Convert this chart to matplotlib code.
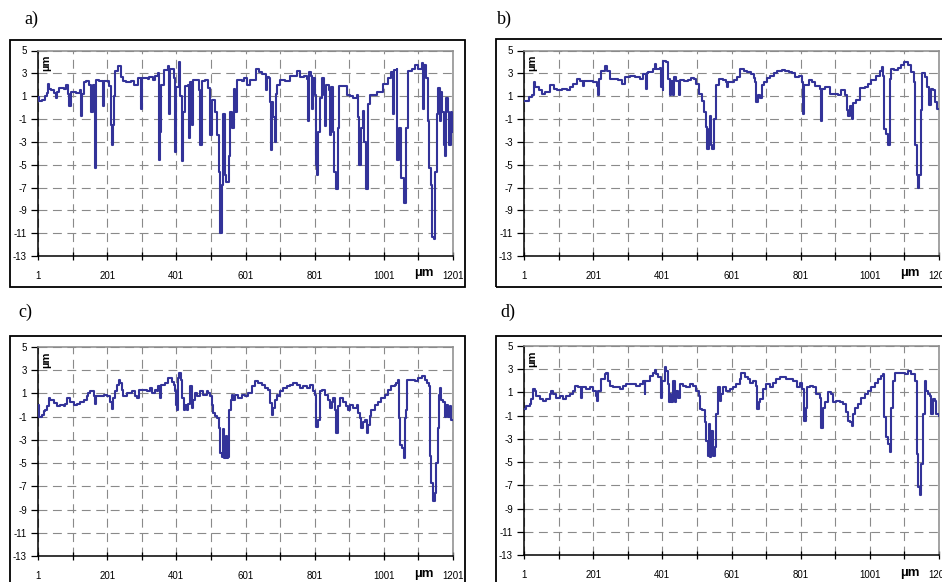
import numpy as np
import matplotlib.pyplot as plt
from matplotlib.patches import Rectangle
import matplotlib.transforms as mtransforms

plt.rcParams['font.family'] = ['Liberation Sans', 'DejaVu Sans']
plt.rcParams['axes.unicode_minus'] = False

W, H = 942, 582

x_ticks = list(range(1, 1202, 100))
x_labels = ['1', '', '201', '', '401', '', '601', '', '801', '', '1001', '', '1201']
y_ticks = [5, 3, 1, -1, -3, -5, -7, -9, -11, -13]
panel_names = ['a)', 'b)', 'c)', 'd)']

# step profiles: (position, height) where each level starts
prof_a = [
    (1, 0.9), (4, 0.6), (12, 0.7), (20, 1.0), (26, 1.3), (29, 2.1), (33, 1.6), (39, 1.5),
    (48, 1.3), (53, 0.8), (56, 1.4), (63, 1.7), (75, 1.6), (82, 2.0), (89, 1.2), (92, 0.1),
    (95, 1.4), (110, 1.3), (121, 1.5), (125, -0.7), (128, 1.2), (134, 2.2), (140, 2.3),
    (149, 2.0), (155, -0.4), (160, 2.0), (166, -5.3), (168, 2.4), (178, 2.3), (188, 0.1),
    (191, 2.3), (198, 2.3), (205, 1.9), (211, -1.5), (214, -3.3), (217, -1.5), (221, 1.0),
    (225, 3.2), (231, 3.6), (240, 2.7), (248, 2.3), (256, 2.2), (270, 2.3), (280, 2.0),
    (289, 2.6), (298, -0.1), (302, 2.6), (318, 2.5), (323, 2.7), (333, 2.4), (340, 2.8),
    (347, 3.0), (350, -1.5), (352, -4.6), (355, -2.1), (358, 2.0), (366, 3.3), (376, 3.6),
    (381, -0.6), (384, 3.4), (393, 2.6), (397, -3.9), (400, 1.8), (408, 4.0), (413, 1.0),
    (416, -4.7), (420, -0.4), (425, 1.9), (435, 2.0), (437, -2.7), (440, 2.2), (446, -1.5),
    (450, 2.4), (460, 2.4), (466, 1.5), (470, -3.3), (474, 2.3), (485, 2.4), (494, 1.7),
    (499, -2.4), (503, 0.7), (512, -0.4), (519, -2.4), (523, -5.6), (528, -11.0), (532, -6.8),
    (537, -0.6), (541, -5.9), (546, -6.5), (552, -4.2), (557, -0.4), (563, -1.8), (567, 1.6),
    (571, -0.4), (575, 2.4), (590, 2.3), (597, 2.6), (606, 2.0), (615, 2.4), (630, 3.4),
    (639, 3.1), (649, 2.9), (659, 2.7), (661, 1.5), (664, 2.7), (668, 2.6), (671, 0.5),
    (675, -3.7), (678, 0.5), (681, -0.8), (685, -3.0), (689, 1.2), (692, 2.0), (702, 2.4),
    (716, 2.3), (731, 2.8), (750, 3.2), (759, 2.7), (769, 2.8), (779, 2.5), (781, -1.2),
    (784, 3.1), (790, 2.8), (793, -0.1), (797, 2.6), (803, 1.1), (805, -5.0), (809, -5.9),
    (812, -2.1), (817, 0.8), (821, 2.6), (827, 1.1), (831, -1.6), (834, 2.0), (841, 1.5),
    (846, -2.4), (848, 1.8), (853, -2.1), (858, -5.6), (863, -7.1), (868, -1.8), (872, 1.9),
    (884, 1.9), (894, 1.1), (903, 1.0), (913, 0.8), (923, 1.1), (927, -0.8), (930, -5.0),
    (935, -1.8), (940, -0.3), (945, -3.0), (950, -7.1), (955, 0.3), (962, 1.1), (980, 1.4),
    (999, 2.1), (1014, 2.6), (1023, 3.1), (1028, -0.6), (1031, 3.3), (1038, 3.4), (1040, -4.6),
    (1045, -1.8), (1052, -6.2), (1060, -8.4), (1065, -1.8), (1070, 3.2), (1081, 3.4),
    (1091, 3.7), (1100, 3.4), (1110, 3.9), (1114, -0.1), (1117, 3.7), (1124, 2.6),
    (1128, -1.2), (1132, -5.3), (1137, -6.8), (1140, -11.3), (1147, -11.5), (1150, -5.6),
    (1154, -0.6), (1158, 1.7), (1162, -1.2), (1166, 1.4), (1170, -0.4), (1174, -3.3),
    (1178, -4.2), (1182, 0.8), (1186, -0.4), (1190, -3.3), (1194, -0.4), (1198, -2.1),
    (1201, -2.1),
]

prof_b = [
    (1, 0.6), (15, 0.9), (24, 1.1), (29, 2.2), (34, 1.8), (44, 1.5), (53, 1.2), (63, 1.4),
    (77, 2.0), (87, 1.6), (96, 1.5), (111, 1.6), (125, 1.5), (134, 1.8), (144, 2.1),
    (154, 2.5), (163, 2.3), (171, 1.9), (174, 2.3), (192, 2.3), (201, 2.2), (211, 1.9),
    (214, 1.1), (217, 2.5), (225, 3.2), (235, 3.6), (242, 3.2), (249, 2.5), (264, 2.5),
    (273, 2.4), (283, 2.1), (292, 2.7), (307, 2.8), (321, 2.7), (335, 2.5), (345, 2.9),
    (353, 1.6), (356, 3.0), (359, 3.1), (374, 3.4), (379, 3.8), (383, 3.4), (393, 3.5),
    (398, 1.8), (402, 1.5), (404, 4.1), (412, 4.0), (417, 2.5), (422, 1.1), (426, 2.3),
    (431, 1.1), (436, 2.7), (441, 2.3), (450, 1.1), (453, 2.4), (465, 2.3), (474, 2.4),
    (484, 2.6), (493, 2.5), (498, 2.1), (508, 1.2), (515, 0.6), (522, -0.4), (527, -1.7),
    (530, -3.6), (535, -1.9), (538, -0.7), (541, -3.3), (546, -3.6), (549, -1.0), (556, 2.0),
    (565, 2.5), (575, 2.4), (584, 2.2), (589, 1.8), (591, 2.2), (608, 2.4), (618, 2.7),
    (627, 3.4), (637, 3.2), (646, 3.1), (656, 2.9), (666, 2.6), (670, 2.2), (673, 0.5),
    (678, 1.1), (682, 0.8), (688, 2.0), (694, 2.2), (704, 2.6), (713, 2.8), (723, 3.0),
    (733, 3.2), (747, 3.3), (757, 3.2), (766, 3.1), (776, 3.0), (785, 2.7), (795, 2.8),
    (804, 2.2), (808, -0.6), (811, 2.0), (824, 2.4), (833, 2.2), (843, 1.9), (857, 1.6),
    (860, -1.2), (864, 1.6), (871, 1.8), (886, 1.2), (895, 1.2), (910, 1.1), (919, 1.5),
    (929, 1.1), (934, -0.25), (938, -0.75), (943, 0.1), (948, -1.0), (953, 0.4), (962, 0.7),
    (972, 1.7), (986, 1.8), (996, 2.1), (1005, 2.4), (1020, 2.8), (1029, 3.2), (1036, 3.55),
    (1039, 2.8), (1042, -1.85), (1048, -2.3), (1053, -3.25), (1058, 2.5), (1063, 3.4),
    (1072, 3.3), (1082, 3.5), (1091, 3.7), (1101, 4.0), (1111, 3.7), (1120, 3.1),
    (1128, 2.2), (1132, -3.3), (1137, -5.9), (1139, -7.05), (1144, -5.9), (1149, -0.25),
    (1153, 3.0), (1160, 2.7), (1166, 1.8), (1173, 0.2), (1178, 1.6), (1185, 1.5),
    (1189, 0.5), (1195, -0.1), (1201, -0.1),
]

prof_c = [
    (1, 0.0), (4, -1.0), (13, -0.85), (17, -0.55), (22, -0.4), (27, -0.05), (32, 0.6),
    (37, 0.45), (46, 0.15), (56, -0.1), (65, 0.0), (75, -0.05), (80, 0.1), (85, 0.6),
    (94, 0.3), (104, 0.0), (114, 0.1), (123, 0.3), (133, 0.45), (142, 0.75), (147, 1.0),
    (152, 1.2), (162, 0.75), (167, 0.1), (169, 0.8), (181, 0.75), (191, 0.9), (200, 0.75),
    (210, 0.3), (215, -0.3), (218, 0.6), (224, 1.2), (229, 1.75), (234, 2.2), (239, 1.9),
    (243, 1.3), (248, 0.75), (258, 1.0), (272, 1.2), (282, 0.75), (287, 0.6), (292, 1.3),
    (306, 1.3), (316, 1.2), (325, 1.45), (330, 1.0), (340, 1.3), (345, 1.2), (349, 1.6),
    (354, 0.6), (357, 1.75), (369, 1.9), (378, 2.3), (388, 2.0), (393, 1.75), (397, 1.2),
    (400, 0.0), (404, -0.4), (407, 2.3), (410, 2.75), (414, 2.2), (417, 0.6), (422, -0.4),
    (426, 0.0), (431, -0.4), (436, 0.1), (441, 1.6), (446, -0.25), (450, 0.45), (455, 1.0),
    (460, 0.75), (470, 1.2), (479, 0.9), (489, 1.2), (494, 1.0), (499, 0.75), (503, 0.0),
    (508, -0.7), (513, -0.9), (518, -1.1), (523, -2.0), (527, -4.15), (532, -4.45),
    (537, -2.1), (539, -4.6), (545, -2.7), (547, -4.6), (550, -4.45), (554, -0.4),
    (558, 0.45), (563, 0.9), (566, 0.45), (571, 0.9), (580, 0.6), (590, 0.9), (600, 0.75),
    (609, 1.0), (619, 1.6), (628, 2.05), (638, 1.9), (648, 1.75), (657, 1.45), (667, 1.3),
    (672, 0.15), (677, -0.85), (681, -0.25), (686, 0.45), (691, 0.9), (696, 0.75),
    (701, 1.2), (710, 1.45), (720, 1.6), (729, 1.75), (739, 1.9), (749, 1.75), (758, 1.45),
    (768, 1.6), (778, 1.45), (787, 1.75), (797, 1.2), (802, 0.9), (806, -1.85), (811, -1.25),
    (816, 1.2), (821, 1.3), (830, 0.9), (840, 0.45), (845, -0.25), (850, 0.3), (855, 0.6),
    (859, -0.4), (864, -2.4), (869, -0.1), (874, 0.6), (883, 0.3), (893, -0.1), (898, -0.4),
    (903, 0.0), (912, -0.25), (922, 0.0), (927, -0.7), (932, -1.1), (936, -2.0), (941, -1.5),
    (946, -1.25), (951, -2.4), (956, -1.7), (960, -0.9), (965, -0.4), (975, 0.0), (984, 0.3),
    (994, 0.6), (1004, 0.9), (1013, 1.3), (1023, 1.6), (1033, 1.75), (1037, 1.9),
    (1042, 2.2), (1045, -1.1), (1049, -3.4), (1054, -3.7), (1059, -4.6), (1062, -1.1),
    (1064, -0.4), (1068, 2.2), (1081, 2.2), (1090, 2.1), (1100, 2.35), (1110, 2.5),
    (1119, 2.2), (1126, 1.9), (1131, 1.6), (1134, -4.4), (1138, -6.7), (1143, -8.3),
    (1148, -7.6), (1153, -5.0), (1158, -2.0), (1161, 0.9), (1163, 1.5), (1167, 0.45),
    (1172, 0.3), (1177, -1.0), (1182, 0.0), (1186, -1.0), (1191, -0.1), (1196, -1.3),
    (1201, -1.3),
]

prof_d = [
    (1, -0.45), (8, -0.15), (17, 0.0), (22, 0.45), (27, 1.3), (32, 1.15), (37, 0.7),
    (46, 0.45), (56, 0.3), (66, 0.45), (75, 0.85), (80, 1.15), (85, 0.85), (94, 0.55),
    (104, 0.7), (114, 0.45), (123, 0.7), (133, 0.85), (143, 1.15), (148, 1.55), (157, 1.45),
    (167, 0.55), (170, 1.45), (181, 1.3), (191, 1.45), (201, 1.15), (208, 0.7), (212, 0.3),
    (216, 1.15), (225, 2.15), (234, 2.55), (239, 2.7), (244, 2.0), (249, 1.55), (258, 1.45),
    (278, 1.3), (287, 1.55), (297, 1.7), (316, 1.7), (326, 1.55), (335, 1.7), (345, 2.0),
    (350, 0.85), (352, 2.0), (364, 2.45), (374, 2.7), (379, 2.9), (384, 2.55), (388, 2.35),
    (393, 2.3), (398, 0.55), (401, 2.0), (408, 3.15), (413, 2.85), (417, 1.7), (420, 0.15),
    (424, 0.85), (427, 0.15), (432, 2.0), (437, 0.15), (441, 1.15), (446, 0.55), (451, 1.7),
    (461, 1.55), (470, 1.45), (480, 1.7), (490, 1.55), (499, 1.15), (507, 0.7), (509, -0.45),
    (517, -0.55), (523, -1.55), (528, -3.15), (533, -4.45), (536, -1.7), (540, -4.55),
    (543, -2.3), (548, -4.45), (552, -3.7), (557, -0.85), (562, 1.45), (567, 0.3),
    (572, 0.85), (576, 1.45), (586, 1.15), (596, 1.3), (605, 1.45), (615, 1.7), (625, 2.15),
    (629, 2.7), (639, 2.3), (649, 2.15), (654, 1.85), (663, 2.0), (671, 1.55), (675, -0.45),
    (681, 0.15), (684, 0.45), (692, 1.3), (702, 1.7), (711, 1.45), (721, 1.85), (731, 2.15),
    (740, 2.3), (750, 2.35), (760, 2.15), (779, 2.0), (789, 1.45), (798, 1.85), (806, 1.3),
    (810, -1.45), (816, -0.3), (819, 1.45), (827, 1.55), (837, 1.45), (846, 0.85),
    (856, 0.55), (861, -2.05), (865, -0.3), (870, 0.15), (880, 1.0), (890, 0.85), (895, 0.15),
    (904, 0.3), (914, 0.15), (923, 0.0), (931, -0.7), (938, -1.45), (943, -1.55),
    (948, -1.85), (952, -0.85), (957, -0.3), (967, 0.0), (976, 0.55), (986, 0.85),
    (996, 1.15), (1005, 1.45), (1015, 1.85), (1025, 2.15), (1034, 2.45), (1039, 2.55),
    (1041, -1.15), (1047, -2.85), (1054, -3.45), (1058, -4.15), (1063, -0.3), (1068, 2.0),
    (1073, 2.7), (1092, 2.65), (1102, 2.55), (1111, 2.85), (1121, 2.55), (1131, 2.0),
    (1136, -4.3), (1140, -7.15), (1145, -7.85), (1150, -5.15), (1155, -0.85), (1160, 2.0),
    (1164, 1.15), (1169, 0.85), (1174, 0.7), (1179, -0.85), (1184, 0.45), (1188, 0.3),
    (1193, -0.85), (1201, -1.0),
]

profiles = [prof_a, prof_b, prof_c, prof_d]

# layout in pixels of the reference: plot area (left, top, w, h), outer frame, label pos
plot_boxes = [(38, 50.5, 415, 205.5), (524, 50.5, 415, 205.5),
              (38, 347, 415, 209), (524, 346, 415, 209)]
frame_boxes = [(10, 40, 455, 247), (496, 39, 455, 248),
               (10, 336, 455, 250), (496, 336, 455, 250)]
label_pos = [(24, 19), (497, 19), (18, 312), (500, 312)]


def fig_rect(l, t, w, h):
    return [l / W, 1 - (t + h) / H, w / W, h / H]


fig = plt.figure(figsize=(W / 100, H / 100), dpi=100)

for prof, pbox, fbox, lpos, name in zip(profiles, plot_boxes, frame_boxes, label_pos, panel_names):
    l, t, w, h = fig_rect(*fbox)
    fig.patches.append(Rectangle((l, t), w, h, transform=fig.transFigure,
                                 fill=False, edgecolor='black', lw=1.3))
    fig.text(lpos[0] / W, 1 - lpos[1] / H, name, fontsize=13,
             family='Liberation Serif', ha='left', va='center')

    ax = fig.add_axes(fig_rect(*pbox))
    xs, ys = np.array(prof).T
    ax.plot(xs, ys, drawstyle='steps-post', color='#333399', lw=1.5, zorder=3)

    ax.set_xlim(1, 1201)
    ax.set_ylim(-13, 5)
    ax.set_xticks(x_ticks)
    ax.set_xticklabels(x_labels)
    ax.set_yticks(y_ticks)
    ax.tick_params(axis='x', direction='inout', length=6, width=0.9, labelsize=7, pad=8)
    ax.tick_params(axis='y', direction='out', length=5, width=0.9, labelsize=7, pad=3)

    ax.grid(True, color='#8a8a8a', lw=0.8, dashes=(8, 5))
    ax.set_axisbelow(True)
    for side in ['left', 'bottom']:
        ax.spines[side].set_color('black')
        ax.spines[side].set_linewidth(1.1)
    for side in ['top', 'right']:
        ax.spines[side].set_color('#8a8a8a')
        ax.spines[side].set_linewidth(1.1)

    ax.text(0.019, 0.94, 'µm', rotation=90, transform=ax.transAxes,
            ha='center', va='center', fontsize=8, fontweight='bold')
    trans = mtransforms.blended_transform_factory(ax.transData, ax.transAxes)
    ax.text(1117, -0.085, 'µm', transform=trans, ha='center', va='center',
            fontsize=9.5, fontweight='bold')

fig.savefig('out.png', dpi=100)
